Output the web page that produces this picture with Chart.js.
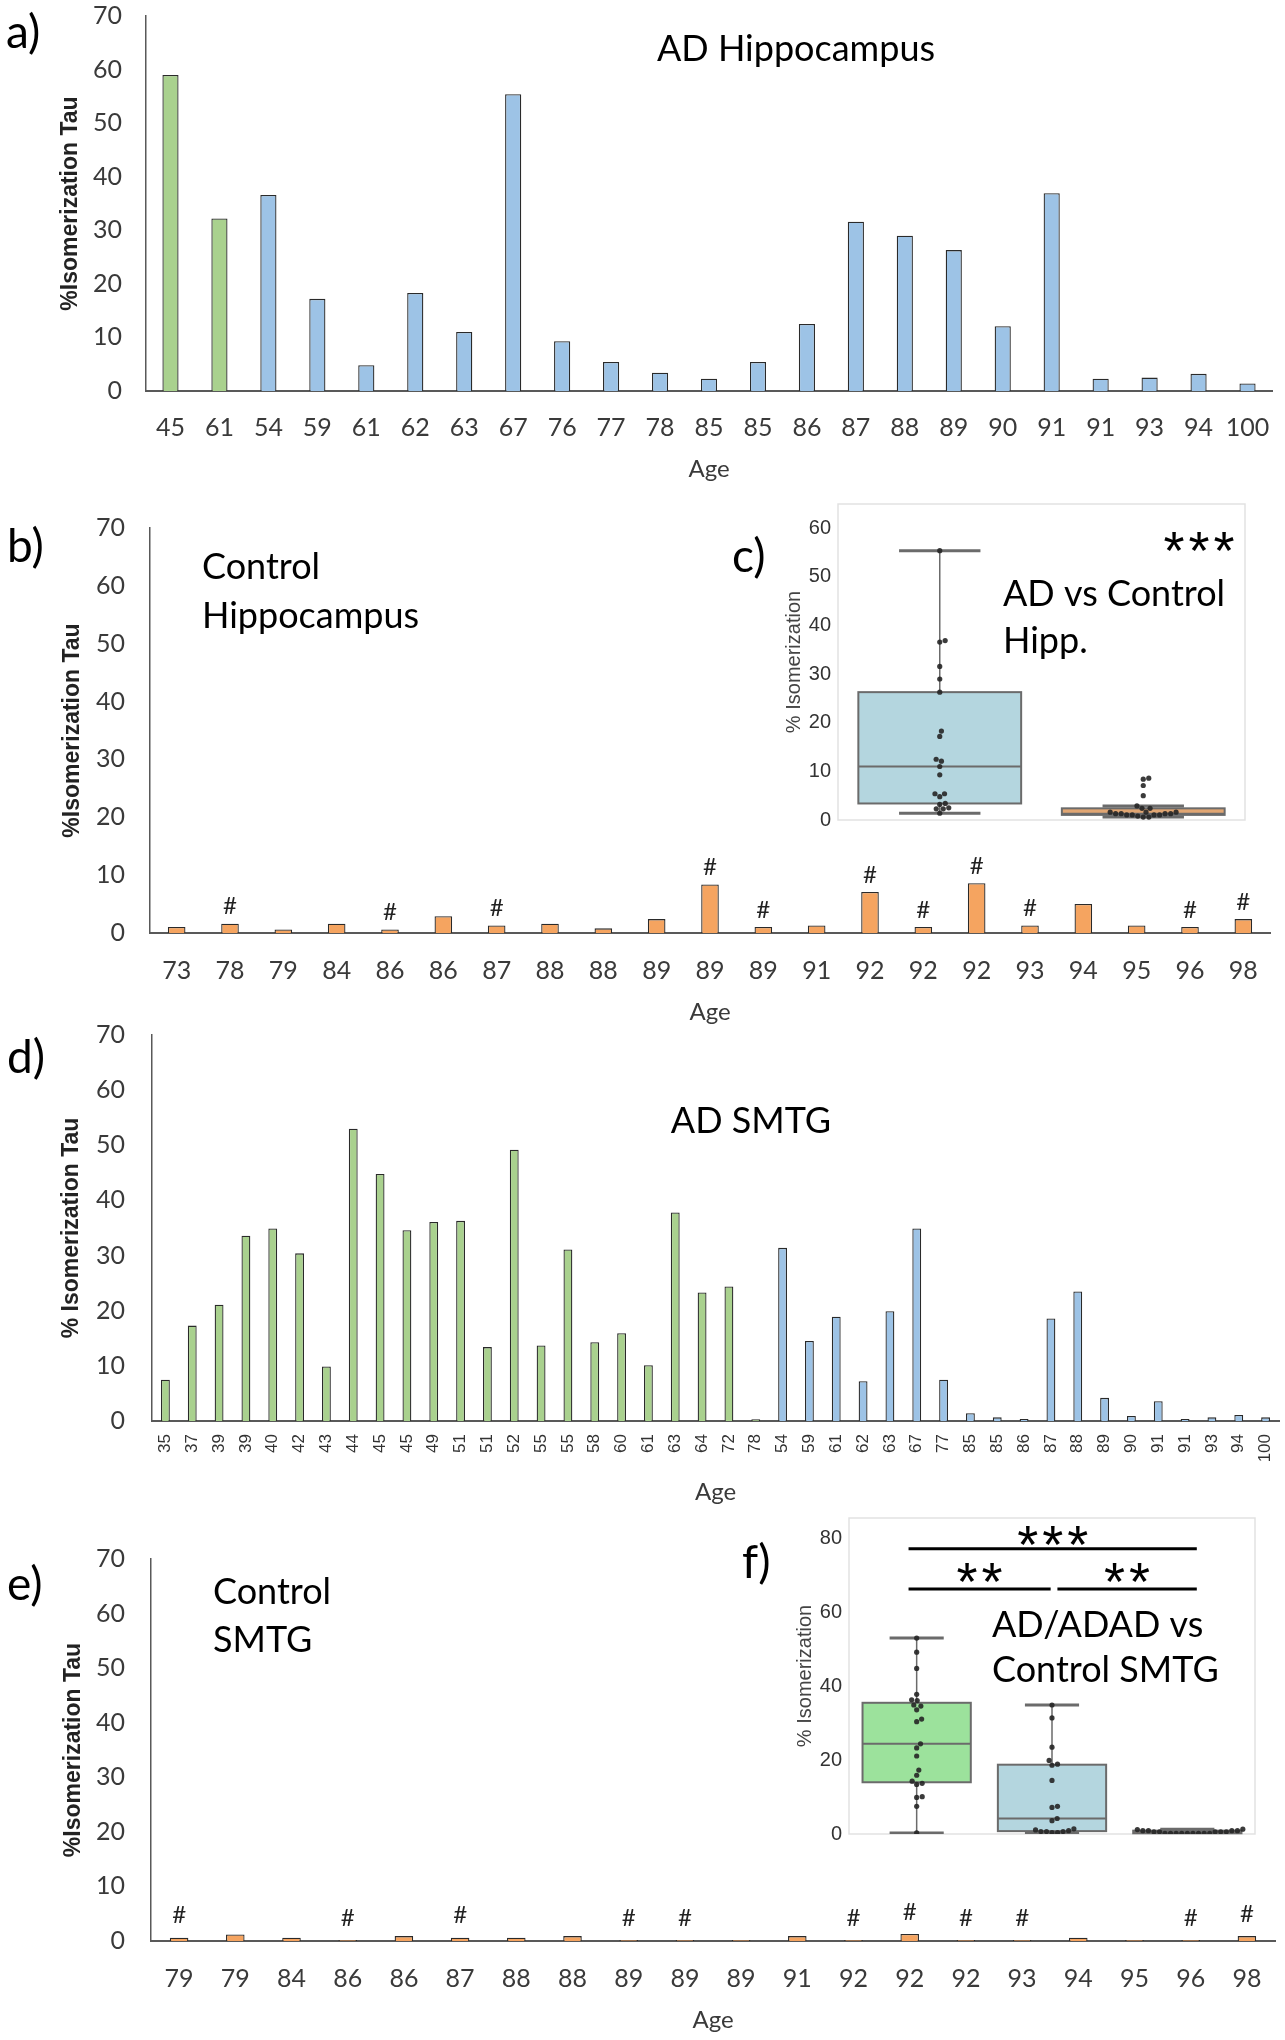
<!DOCTYPE html>
<html>
<head>
<meta charset="utf-8">
<script src="https://cdn.jsdelivr.net/npm/chart.js@4.4.1/dist/chart.umd.min.js"></script>
<style>
  body { margin: 0; background: #fff; }
  #page { position: relative; width: 1285px; height: 2040px; overflow: hidden; background: #fff; }
  .box { position: absolute; }
</style>
</head>
<body>
<div id="page"></div>
<script>
// --- DATA ---
// a) AD hippocampus
const aAges   = ['45','61','54','59','61','62','63','67','76','77','78','85','85','86','87','88','89','90','91','91','93','94','100'];
const aValues = [59.0, 32.2, 36.6, 17.2, 4.8, 18.3, 11.0, 55.4, 9.3, 5.4, 3.4, 2.3, 5.4, 12.5, 31.6, 29.0, 26.3, 12.1, 36.9, 2.3, 2.5, 3.2, 1.4];
const aGroups = ['ADAD','ADAD','SP','SP','SP','SP','SP','SP','SP','SP','SP','SP','SP','SP','SP','SP','SP','SP','SP','SP','SP','SP','SP'];

// b) control hippocampus
const bAges   = ['73','78','79','84','86','86','87','88','88','89','89','89','91','92','92','92','93','94','95','96','98'];
const bValues = [1.05, 1.6, 0.6, 1.6, 0.6, 2.9, 1.3, 1.6, 0.8, 2.4, 8.4, 1.05, 1.3, 7.1, 1.05, 8.6, 1.3, 5.0, 1.3, 1.05, 2.4];
const bHash   = [0,1,0,0,1,0,1,0,0,0,1,1,0,1,1,1,1,0,0,1,1];

// d) AD SMTG
const dAges   = ['35','37','39','39','40','42','43','44','45','45','49','51','51','52','55','55','58','60','61','63','64','72','78',
                 '54','59','61','62','63','67','77','85','85','86','87','88','89','90','91','91','93','94','100'];
const dValues = [7.5, 17.3, 21.1, 33.6, 34.9, 30.4, 9.9, 53.0, 44.8, 34.6, 36.1, 36.3, 13.4, 49.2, 13.7, 31.1, 14.3, 15.9, 10.1, 37.8, 23.3, 24.4, 0.3,
                 31.4, 14.5, 18.9, 7.2, 19.9, 34.9, 7.5, 1.4, 0.66, 0.35, 18.6, 23.5, 4.2, 0.9, 3.6, 0.35, 0.66, 1.1, 0.66];
const dGroups = dAges.map((a, i) => i < 23 ? 'ADAD' : 'SP');

// e) control SMTG
const eAges   = ['79','79','84','86','86','87','88','88','89','89','89','91','92','92','92','93','94','95','96','98'];
const eValues = [0.6, 1.2, 0.6, 0.2, 0.9, 0.6, 0.6, 0.9, 0.2, 0.2, 0.2, 0.9, 0.2, 1.3, 0.2, 0.2, 0.6, 0.2, 0.2, 0.9];
const eHash   = [1,0,0,1,0,1,0,0,1,1,0,0,1,1,1,1,0,0,1,1];

const yTicks = [0, 70, 10];        // min, max, step of the bar panels
const cTicks = [0, 65, 10];        // inset c
const fTicks = [0, 85.5, 20];      // inset f

// --- STYLE ---
const barColor = { ADAD: '#A9D18E', SP: '#9DC3E6', CTRL: '#F5A460' };
const boxColor = { ADAD: '#9CE29C', SP: '#B4D6DF', CTRL: '#E1A673' };
const boxEdge = '#6b6b6b';
const page = document.getElementById('page');

function addCanvas(b) {
  const div = document.createElement('div');
  div.className = 'box';
  div.style.left = b.left + 'px';
  div.style.top = b.top + 'px';
  div.style.width = b.width + 'px';
  div.style.height = b.height + 'px';
  const cv = document.createElement('canvas');
  div.appendChild(cv);
  page.appendChild(div);
  return cv;
}

// canvas box around a plot area: room above and to the right so Chart.js keeps the area where we want it
function frameBox(left, area, bottom, topRoom) {
  const top = area.top - topRoom;
  return { left, top, width: area.right + 40 - left, height: bottom - top };
}

function drawStars(ctx, n, cx, baseline) {
  for (let k = 0; k < n; k++) ctx.fillText('*', cx + (k - (n - 1) / 2) * 25, baseline);
}

// free text drawn on a chart canvas, given in page coordinates (y = baseline)
function textPlugin(box, items) {
  return {
    id: 'pageText',
    afterDraw(chart) {
      const ctx = chart.ctx;
      items.forEach(t => {
        ctx.save();
        ctx.font = t.font;
        ctx.fillStyle = t.color || '#000';
        ctx.textAlign = t.stars ? 'center' : (t.align || 'left');
        ctx.textBaseline = 'alphabetic';
        if (t.stars) drawStars(ctx, t.stars, t.x - box.left, t.y - box.top);
        else ctx.fillText(t.text, t.x - box.left, t.y - box.top);
        ctx.restore();
      });
    }
  };
}

// '#' above flagged bars
function hashPlugin(flags, lift) {
  return {
    id: 'hashMarks',
    afterDatasetsDraw(chart) {
      const ctx = chart.ctx;
      const bars = chart.getDatasetMeta(0).data;
      ctx.save();
      ctx.font = '24px Lato';
      ctx.fillStyle = '#222';
      ctx.textAlign = 'center';
      ctx.textBaseline = 'middle';
      bars.forEach((bar, i) => {
        if (flags[i]) ctx.fillText('#', bar.x, bar.y - lift);
      });
      ctx.restore();
    }
  };
}

function barPanel(p) {
  const box = frameBox(0, p.area, p.bottom, 50);
  const cv = addCanvas(box);
  const tickFont = { family: 'Lato', size: 25 };
  const titleFont = { family: 'Lato', size: 24 };
  const yTitleFont = { family: 'Liberation Sans', size: 23, weight: 'bold' };
  const xPad = p.rotate ? p.labelTop - p.area.bottom : p.tickCenter - p.area.bottom - tickFont.size * 0.6;
  return new Chart(cv, {
    type: 'bar',
    data: {
      labels: p.labels,
      datasets: [{
        data: p.values,
        backgroundColor: p.colors,
        borderColor: '#2a2a2a',
        borderWidth: 1.3,
        borderSkipped: 'start',
        barPercentage: 0.33,
        categoryPercentage: 1
      }]
    },
    options: {
      responsive: true,
      maintainAspectRatio: false,
      animation: false,
      devicePixelRatio: 1,
      layout: { padding: { left: 0, top: p.area.top - box.top, right: box.left + box.width - p.area.right, bottom: 0 } },
      plugins: { legend: { display: false }, tooltip: { enabled: false } },
      scales: {
        x: {
          grid: { display: false, drawTicks: false },
          border: { color: '#595959', width: 2 },
          ticks: p.rotate
            ? { font: { family: 'Liberation Sans', size: 17 }, color: '#333', padding: xPad, autoSkip: false, minRotation: 90, maxRotation: 90 }
            : { font: tickFont, color: '#3a3a3a', padding: xPad, autoSkip: false, maxRotation: 0 },
          title: { display: true, text: 'Age', font: titleFont, color: '#3a3a3a',
                   padding: { top: 0, bottom: p.bottom - p.titleCenter - titleFont.size * 0.6 } },
          afterFit: s => { s.height = p.bottom - p.area.bottom; }
        },
        y: {
          min: yTicks[0], max: yTicks[1],
          grid: { display: false, drawTicks: false },
          border: { color: '#595959', width: 1.5 },
          ticks: { stepSize: yTicks[2], font: tickFont, color: '#3a3a3a', padding: p.area.left - p.yTickRight },
          title: { display: true, text: p.yTitle, font: yTitleFont, color: '#222',
                   padding: { top: p.yTitleCenter - box.left - yTitleFont.size * 0.6, bottom: 0 } },
          afterFit: s => { s.width = p.area.left - box.left; }
        }
      }
    },
    plugins: [textPlugin(box, p.texts)].concat(p.hash ? [hashPlugin(p.hash, p.hashLift)] : [])
  });
}

// --- BOX + SWARM INSETS ---
function quantile(sorted, q) {
  const pos = (sorted.length - 1) * q;
  const lo = Math.floor(pos), hi = Math.ceil(pos);
  return sorted[lo] + (sorted[hi] - sorted[lo]) * (pos - lo);
}
function boxStats(values) {
  const s = values.slice().sort((a, b) => a - b);
  const q1 = quantile(s, 0.25), med = quantile(s, 0.5), q3 = quantile(s, 0.75);
  const iqr = q3 - q1;
  const lo = s.find(v => v >= q1 - 1.5 * iqr);
  const hi = s.filter(v => v <= q3 + 1.5 * iqr).pop();
  return { q1, med, q3, lo, hi };
}
// beeswarm offsets (in category units) so dots of diameter d do not overlap
function swarm(values, pxX, pxY, d) {
  const order = values.map((v, i) => i).sort((a, b) => values[a] - values[b]);
  const placed = [];
  const off = new Array(values.length);
  order.forEach(i => {
    const y = values[i] * pxY;
    const near = placed.filter(p => Math.abs(p.y - y) < d);
    const cands = [0];
    near.forEach(p => {
      const dx = Math.sqrt(d * d - (p.y - y) * (p.y - y));
      cands.push(p.x + dx, p.x - dx);
    });
    cands.sort((a, b) => Math.abs(a) - Math.abs(b));
    const x = cands.find(c => near.every(p => (p.x - c) ** 2 + (p.y - y) ** 2 >= d * d - 0.01));
    placed.push({ x, y });
    off[i] = x / pxX;
  });
  return off;
}

// interquartile boxes, placed with the chart's own scales
function boxesPlugin(stats, colors) {
  return {
    id: 'boxes',
    beforeDatasetsDraw(chart) {
      const { ctx, scales: { x, y } } = chart;
      ctx.save();
      ctx.lineWidth = 2;
      ctx.strokeStyle = boxEdge;
      stats.forEach((s, i) => {
        const x0 = x.getPixelForValue(i - 0.4), x1 = x.getPixelForValue(i + 0.4);
        const y0 = y.getPixelForValue(s.q3), y1 = y.getPixelForValue(s.q1);
        ctx.fillStyle = colors[i];
        ctx.fillRect(x0, y0, x1 - x0, y1 - y0);
        ctx.strokeRect(x0, y0, x1 - x0, y1 - y0);
      });
      ctx.restore();
    }
  };
}

function sigPlugin(bars) {
  return {
    id: 'sigBars',
    afterDatasetsDraw(chart) {
      const { ctx, scales: { x, y } } = chart;
      ctx.save();
      ctx.strokeStyle = '#000';
      ctx.lineWidth = 3;
      ctx.fillStyle = '#000';
      ctx.font = starFont;
      ctx.textAlign = 'center';
      ctx.textBaseline = 'alphabetic';
      bars.forEach(b => {
        const py = y.getPixelForValue(b.y);
        ctx.beginPath();
        ctx.moveTo(x.getPixelForValue(b.from), py);
        ctx.lineTo(x.getPixelForValue(b.to), py);
        ctx.stroke();
        drawStars(ctx, b.stars, x.getPixelForValue((b.from + b.to) / 2), py + b.lift);
      });
      ctx.restore();
    }
  };
}

const framePlugin = {
  id: 'frame',
  beforeDatasetsDraw(chart) {
    const { ctx, chartArea: a } = chart;
    ctx.save();
    ctx.strokeStyle = '#e2e2e2';
    ctx.lineWidth = 1.5;
    ctx.strokeRect(a.left, a.top, a.right - a.left, a.bottom - a.top);
    ctx.restore();
  }
};

function boxPanel(p) {
  const box = frameBox(p.left, p.area, p.bottom, 40);
  const cv = addCanvas(box);
  const n = p.groups.length;
  const labels = p.groups.map(g => g.label);
  const stats = p.groups.map(g => boxStats(g.values));
  const pxX = (p.area.right - p.area.left) / n;
  const pxY = (p.area.bottom - p.area.top) / (p.ticks[1] - p.ticks[0]);
  const whisk = [], caps = [], meds = [], dots = [];
  stats.forEach((s, i) => {
    whisk.push({ x: i, y: s.q3 }, { x: i, y: s.hi }, { x: i, y: null }, { x: i, y: s.q1 }, { x: i, y: s.lo }, { x: i, y: null });
    caps.push({ x: i - 0.2, y: s.hi }, { x: i + 0.2, y: s.hi }, { x: i, y: null }, { x: i - 0.2, y: s.lo }, { x: i + 0.2, y: s.lo }, { x: i, y: null });
    meds.push({ x: i - 0.4, y: s.med }, { x: i + 0.4, y: s.med }, { x: i, y: null });
    const off = swarm(p.groups[i].values, pxX, pxY, 5.6);
    p.groups[i].values.forEach((v, k) => dots.push({ x: i + off[k], y: v }));
  });
  const lineDs = (data, w, order) => ({
    type: 'line', data, borderColor: boxEdge, borderWidth: w,
    pointRadius: 0, spanGaps: false, order, borderCapStyle: 'butt'
  });
  const tickFont = { family: 'Liberation Sans', size: 20 };
  return new Chart(cv, {
    type: 'scatter',
    data: {
      datasets: [
        lineDs(whisk, 1.5, 4),
        lineDs(caps, 3, 3),
        lineDs(meds, 2, 2),
        { data: dots, pointRadius: 2.6, pointBorderWidth: 0, pointBackgroundColor: 'rgba(38,38,38,0.9)', order: 1 }
      ]
    },
    options: {
      responsive: true,
      maintainAspectRatio: false,
      animation: false,
      devicePixelRatio: 1,
      layout: { padding: { left: 0, top: p.area.top - box.top, right: box.left + box.width - p.area.right, bottom: 0 } },
      plugins: { legend: { display: false }, tooltip: { enabled: false } },
      scales: {
        x: {
          type: 'linear', min: -0.5, max: n - 0.5, offset: false,
          grid: { display: false, drawTicks: false },
          border: { display: false },
          ticks: { stepSize: 1, includeBounds: false, font: tickFont, color: '#333',
                   padding: p.xTickCenter - p.area.bottom - 12, maxRotation: 0,
                   callback: v => labels[v] },
          afterFit: s => { s.height = p.bottom - p.area.bottom; }
        },
        y: {
          min: p.ticks[0], max: p.ticks[1],
          grid: { display: false, drawTicks: false },
          border: { display: false },
          ticks: { stepSize: p.ticks[2], includeBounds: false, font: tickFont, color: '#333', padding: p.area.left - p.yTickRight },
          title: { display: true, text: '% Isomerization', font: tickFont, color: '#444',
                   padding: { top: p.yTitleCenter - box.left - 12, bottom: 0 } },
          afterFit: s => { s.width = p.area.left - box.left; }
        }
      }
    },
    plugins: [framePlugin, boxesPlugin(stats, p.groups.map(g => boxColor[g.key])), textPlugin(box, p.texts)]
      .concat(p.sig ? [sigPlugin(p.sig)] : [])
  });
}

const big = '36px Lato';
const letter = '46px Lato';
const starFont = '54px "Liberation Sans"';

// a)
barPanel({
  area: { left: 146, top: 16, right: 1272, bottom: 391 }, bottom: 490,
  labels: aAges, values: aValues, colors: aGroups.map(g => barColor[g]),
  tickCenter: 428, titleCenter: 469, yTickRight: 122, yTitleCenter: 71,
  yTitle: '%Isomerization Tau',
  texts: [
    { text: 'a)', x: 6, y: 48, font: letter },
    { text: 'AD Hippocampus', x: 796, y: 61, font: big, align: 'center' }
  ]
});

// b)
barPanel({
  area: { left: 150, top: 528, right: 1270, bottom: 933 }, bottom: 1030,
  labels: bAges, values: bValues, colors: bValues.map(() => barColor.CTRL),
  tickCenter: 971, titleCenter: 1012, yTickRight: 125, yTitleCenter: 73,
  yTitle: '%Isomerization Tau',
  hash: bHash, hashLift: 17,
  texts: [
    { text: 'b)', x: 7, y: 562, font: letter },
    { text: 'Control', x: 202, y: 579, font: big },
    { text: 'Hippocampus', x: 202, y: 628, font: big },
    { text: 'c)', x: 732, y: 572, font: letter }
  ]
});

// c) inset
boxPanel({
  left: 770, area: { left: 838, top: 504, right: 1245, bottom: 820 }, bottom: 856,
  ticks: cTicks,
  groups: [
    { label: 'Sporadic', key: 'SP', values: aValues.filter((v, i) => aGroups[i] === 'SP') },
    { label: 'Control', key: 'CTRL', values: bValues }
  ],
  xTickCenter: 835, yTickRight: 831, yTitleCenter: 794,
  texts: [
    { stars: 3, x: 1199, y: 569, font: starFont },
    { text: 'AD vs Control', x: 1003, y: 606, font: big },
    { text: 'Hipp.', x: 1003, y: 653, font: big }
  ]
});

// d)
barPanel({
  area: { left: 152, top: 1035, right: 1279, bottom: 1421 }, bottom: 1520,
  labels: dAges, values: dValues, colors: dGroups.map(g => barColor[g]),
  rotate: true, labelTop: 1434, titleCenter: 1492, yTickRight: 125, yTitleCenter: 72,
  yTitle: '% Isomerization Tau',
  texts: [
    { text: 'd)', x: 7, y: 1073, font: letter },
    { text: 'AD SMTG', x: 751, y: 1133, font: big, align: 'center' }
  ]
});

// e)
barPanel({
  area: { left: 151, top: 1559, right: 1275, bottom: 1941 }, bottom: 2040,
  labels: eAges, values: eValues, colors: eValues.map(() => barColor.CTRL),
  tickCenter: 1979, titleCenter: 2020, yTickRight: 125, yTitleCenter: 74,
  yTitle: '%Isomerization Tau',
  hash: eHash, hashLift: 22,
  texts: [
    { text: 'e)', x: 7, y: 1600, font: letter },
    { text: 'Control', x: 213, y: 1604, font: big },
    { text: 'SMTG', x: 213, y: 1652, font: big },
    { text: 'f)', x: 742, y: 1578, font: letter }
  ]
});

// f) inset
boxPanel({
  left: 780, area: { left: 849, top: 1518, right: 1255, bottom: 1834 }, bottom: 1870,
  ticks: fTicks,
  groups: [
    { label: 'Autosom. Dom.', key: 'ADAD', values: dValues.filter((v, i) => dGroups[i] === 'ADAD') },
    { label: 'Sporadic', key: 'SP', values: dValues.filter((v, i) => dGroups[i] === 'SP') },
    { label: 'Control', key: 'CTRL', values: eValues }
  ],
  xTickCenter: 1848, yTickRight: 842, yTitleCenter: 805,
  sig: [
    { from: -0.06, to: 0.99, y: 66.3, stars: 2, lift: 11 },
    { from: 1.04, to: 2.07, y: 66.3, stars: 2, lift: 11 },
    { from: -0.06, to: 2.07, y: 77.2, stars: 3, lift: 14 }
  ],
  texts: [
    { text: 'AD/ADAD vs', x: 992, y: 1637, font: big },
    { text: 'Control SMTG', x: 992, y: 1682, font: big }
  ]
});
</script>
</body>
</html>
